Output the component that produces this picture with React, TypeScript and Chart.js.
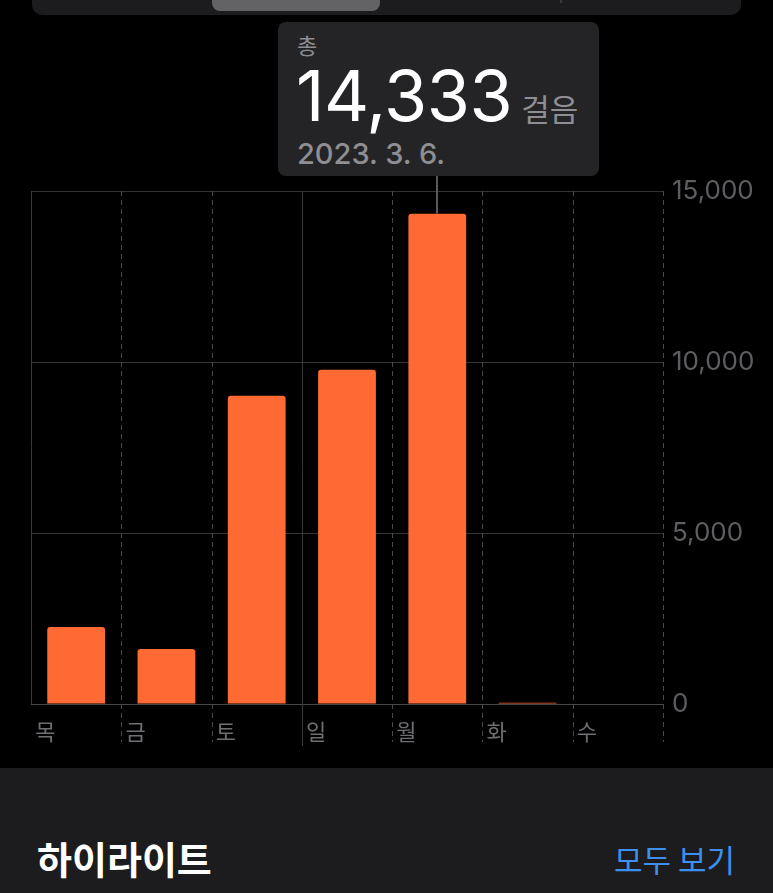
import React, { useEffect, useRef } from "react";
import { Chart, registerables } from "chart.js";

Chart.register(...registerables);

const dayLabels = ["목", "금", "토", "일", "월", "화", "수"];
const dayDates = ["2023. 3. 2.", "2023. 3. 3.", "2023. 3. 4.", "2023. 3. 5.", "2023. 3. 6.", "2023. 3. 7.", "2023. 3. 8."];
const stepCounts = [2250, 1610, 9010, 9770, 14333, 40, 0];
const yTicks = [0, 5000, 10000, 15000];
const highlightIndex = 4;
const solidDividers = [0, 3];

const NUM_FONT = "Inter, 'Noto Sans CJK KR', sans-serif";
const KR_FONT = "'Noto Sans CJK KR', Inter, sans-serif";

const dividerPlugin = {
  id: "dividers",
  beforeDatasetsDraw(chart: any) {
    const xs = chart.scales.x;
    const area = chart.chartArea;
    const ctx = chart.ctx;
    const n = dayLabels.length;
    const half = (xs.getPixelForValue(1) - xs.getPixelForValue(0)) / 2;
    ctx.save();
    for (let i = 0; i <= n; i++) {
      const x = Math.round(i < n ? xs.getPixelForValue(i) - half : xs.getPixelForValue(n - 1) + half) + 0.5;
      const solid = solidDividers.includes(i);
      ctx.beginPath();
      ctx.lineWidth = 1;
      if (solid) {
        ctx.setLineDash([]);
        ctx.strokeStyle = "#3a3a3c";
      } else {
        ctx.setLineDash([5, 4]);
        ctx.strokeStyle = "#48484a";
      }
      const bottom = i === 0 ? area.bottom : area.bottom + (solid ? 42 : 38);
      ctx.moveTo(x, area.top);
      ctx.lineTo(x, bottom);
      ctx.stroke();
    }
    ctx.restore();
  },
};

const connectorPlugin = {
  id: "connector",
  afterDatasetsDraw(chart: any) {
    const meta = chart.getDatasetMeta(0);
    const el = meta.data[highlightIndex];
    if (!el) return;
    const ctx = chart.ctx;
    ctx.save();
    ctx.beginPath();
    ctx.strokeStyle = "#5a5a5e";
    ctx.lineWidth = 2;
    ctx.moveTo(Math.round(el.x), 0);
    ctx.lineTo(Math.round(el.x), el.y);
    ctx.stroke();
    ctx.restore();
  },
};

export default function App() {
  const canvasRef = useRef<HTMLCanvasElement | null>(null);

  useEffect(() => {
    if (!canvasRef.current) return;
    const chart = new Chart(canvasRef.current, {
      type: "bar",
      data: {
        labels: dayLabels,
        datasets: [
          {
            data: stepCounts,
            backgroundColor: "#ff6a34",
            borderRadius: { topLeft: 3, topRight: 3, bottomLeft: 0, bottomRight: 0 },
            borderSkipped: false,
            barPercentage: 0.64,
            categoryPercentage: 1,
          },
        ],
      },
      options: {
        responsive: false,
        animation: false,
        devicePixelRatio: 1,
        layout: { padding: { top: 15, left: 31, right: 0, bottom: 0 } },
        plugins: { legend: { display: false }, tooltip: { enabled: false } },
        scales: {
          x: {
            offset: true,
            grid: { display: false, drawTicks: false },
            border: { display: false },
            afterFit(scale: any) {
              scale.height = 56;
              scale.paddingLeft = 0;
              scale.paddingRight = 0;
            },
            ticks: {
              color: "#6e6e73",
              font: { family: KR_FONT, size: 22 },
              align: "start",
              labelOffset: -41,
              padding: 14,
              maxRotation: 0,
              autoSkip: false,
            },
          },
          y: {
            position: "right",
            min: 0,
            max: 15000,
            afterFit(scale: any) {
              scale.width = 110;
              scale.paddingTop = 0;
              scale.paddingBottom = 0;
            },
            afterBuildTicks(scale: any) {
              scale.ticks = yTicks.map((v) => ({ value: v }));
            },
            grid: {
              drawTicks: false,
              color: (c: any) => (c.tick && c.tick.value === 0 ? "#48484a" : "#333336"),
              lineWidth: 1,
            },
            border: { display: false },
            ticks: {
              color: "#5e5e62",
              font: { family: NUM_FONT, size: 26 },
              padding: 9,
              callback: (v: any) => Number(v).toLocaleString("en-US"),
            },
          },
        },
      },
      plugins: [dividerPlugin, connectorPlugin],
    } as any);
    return () => chart.destroy();
  }, []);

  return (
    <div style={{ position: "fixed", inset: 0, background: "#000", overflow: "hidden", fontFamily: NUM_FONT }}>
      {/* segmented control */}
      <div style={{ position: "absolute", left: 32, top: -20, width: 709, height: 35, background: "#1c1c1e", borderRadius: 10 }} />
      <div style={{ position: "absolute", left: 212, top: -20, width: 168, height: 31, background: "#636366", borderRadius: 8 }} />
      <div style={{ position: "absolute", left: 560, top: 0, width: 2, height: 3, background: "#3a3a3c" }} />

      {/* tooltip box */}
      <div style={{ position: "absolute", left: 278, top: 22, width: 321, height: 154, background: "#242426", borderRadius: 8 }}>
        <div style={{ position: "absolute", left: 19, top: 7, fontFamily: KR_FONT, fontSize: 22, color: "#8e8e93", lineHeight: "30px" }}>총</div>
        <div style={{ position: "absolute", left: 18, top: 32, display: "flex", alignItems: "baseline", whiteSpace: "nowrap" }}>
          <span style={{ fontFamily: NUM_FONT, fontSize: 70, color: "#ffffff", fontWeight: 400, letterSpacing: -0.5, lineHeight: "84px" }}>
            {stepCounts[highlightIndex].toLocaleString("en-US")}
          </span>
          <span style={{ fontFamily: KR_FONT, fontSize: 31, color: "#8e8e93", marginLeft: 9 }}>걸음</span>
        </div>
        <div style={{ position: "absolute", left: 19, top: 114, fontFamily: NUM_FONT, fontSize: 29, color: "#8e8e93", fontWeight: 500, lineHeight: "36px", whiteSpace: "nowrap" }}>
          {dayDates[highlightIndex]}
        </div>
      </div>

      {/* chart */}
      <canvas ref={canvasRef} width={773} height={584} style={{ position: "absolute", left: 0, top: 176, width: 773, height: 584 }} />

      {/* bottom section */}
      <div style={{ position: "absolute", left: 0, top: 768, width: 773, height: 125, background: "#1c1c1e" }}>
        <div style={{ position: "absolute", left: 37, top: 64, fontFamily: KR_FONT, fontSize: 38, fontWeight: 700, color: "#ffffff", lineHeight: "52px" }}>하이라이트</div>
        <div style={{ position: "absolute", right: 38, top: 71, fontFamily: KR_FONT, fontSize: 31, color: "#3d8ff0", lineHeight: "40px" }}>모두 보기</div>
      </div>
    </div>
  );
}
